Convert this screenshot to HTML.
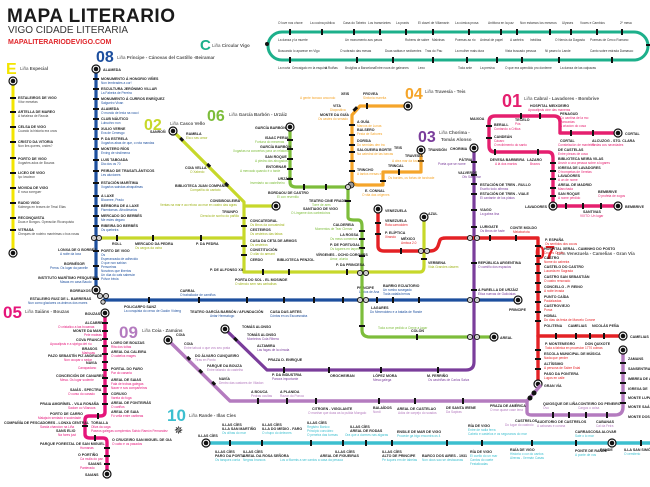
<!DOCTYPE html>
<html><head><meta charset="utf-8"><style>
html,body{margin:0;padding:0;background:#fff;}
svg{display:block;font-family:"Liberation Sans",sans-serif;}
.n{font-size:3.6px;font-weight:bold;fill:#222;}
.s{font-size:3.2px;}
.t{fill:none;stroke-linecap:round;stroke-linejoin:round;}
</style></head><body>
<svg width="650" height="487" viewBox="0 0 650 487" xmlns="http://www.w3.org/2000/svg">
<rect width="650" height="487" fill="#fff"/>
<text x="7" y="22" font-size="19" font-weight="bold" fill="#1a1a1a" letter-spacing="0.5">MAPA LITERARIO</text>
<text x="8" y="33" font-size="10" fill="#333">VIGO CIDADE LITERARIA</text>
<text x="8" y="44" font-size="7" font-weight="bold" fill="#e0262b">MAPALITERARIODEVIGO.COM</text>

<path class="t" d="M282,32 H634 A14,14 0 0 1 634,60 H282 A14,14 0 0 1 282,32" stroke="#1db08b" stroke-width="3"/>
<text x="200" y="50" font-size="15" font-weight="bold" fill="#1db08b">C</text>
<text x="212" y="47" font-size="4.5" fill="#555">Liña <tspan font-weight="bold">Circular Vigo</tspan></text>
<circle cx="267" cy="44" r="2" fill="#111"/>
<g fill="#111">
<rect x="289" y="29" width="2" height="6"/><rect x="321" y="29" width="2" height="6"/><rect x="353" y="29" width="2" height="6"/><rect x="379" y="29" width="2" height="6"/><rect x="405" y="29" width="2" height="6"/><rect x="432" y="29" width="2" height="6"/><rect x="468" y="29" width="2" height="6"/><rect x="500" y="29" width="2" height="6"/><rect x="516" y="29" width="2" height="6"/><rect x="549" y="29" width="2" height="6"/><rect x="570" y="29" width="2" height="6"/><rect x="596" y="29" width="2" height="6"/><rect x="621" y="29" width="2" height="6"/>
<rect x="289" y="57" width="2" height="6"/><rect x="356" y="57" width="2" height="6"/><rect x="392" y="57" width="2" height="6"/><rect x="432" y="57" width="2" height="6"/><rect x="466" y="57" width="2" height="6"/><rect x="496" y="57" width="2" height="6"/><rect x="521" y="57" width="2" height="6"/><rect x="558" y="57" width="2" height="6"/><rect x="611" y="57" width="2" height="6"/><rect x="646" y="44" width="4" height="2"/>
</g>
<g class="s" fill="#333">
<text x="278" y="24">O love nos chove</text><text x="310" y="24">La cocina pública</text><text x="343" y="24">Casa do Tabeiro</text><text x="368" y="24">Los transeúntes</text><text x="396" y="24">La praxis</text><text x="418" y="24">El clavel de Villamarín</text><text x="455" y="24">La cómica prosa</text><text x="488" y="24">Antífona en la paz</text><text x="520" y="24">Non estamos los mesmos</text><text x="562" y="24">Ulysses</text><text x="580" y="24">Voces e Cambios</text><text x="620" y="24">2º mesa</text>
<text x="278" y="41">La danza y la muerte</text><text x="345" y="41">Un monumento aos pasos</text><text x="405" y="41">Rubens de sabre</text><text x="432" y="41">Malvinas</text><text x="455" y="41">Poemas ao rio</text><text x="480" y="41">Animal de papel</text><text x="510" y="41">A carteira</text><text x="530" y="41">Inéditas</text><text x="555" y="41">O Nenús da Dagosta</text><text x="590" y="41">Poemas de Cerco Romano</text>
<text x="278" y="52">Buscando lo aparece en Vigo</text><text x="340" y="52">O sobrado das mesas</text><text x="385" y="52">Duas sabias e sedicentes</text><text x="425" y="52">Tras do Pau</text><text x="455" y="52">La mulher mais dura</text><text x="505" y="52">Vista buscado pessoa</text><text x="545" y="52">Ni paseo lo Lande</text><text x="590" y="52">Canto sobre estrada Damasco</text>
<text x="278" y="69">La novia</text><text x="292" y="69">Cercaígalo en la esquina</text><text x="325" y="69">A Ruiñas</text><text x="345" y="69">Bruiglias a Barcelona</text><text x="375" y="69">Entre nova de galeones</text><text x="418" y="69">Lexo</text><text x="458" y="69">Toda ante</text><text x="480" y="69">La presiva</text><text x="505" y="69">O que era apendido pro donleme</text><text x="560" y="69">La danza de las calpazas</text>
</g>

<path class="t" d="M13,80 V253" stroke="#f3e500" stroke-width="3"/>
<text x="6" y="74" font-size="16" font-weight="bold" fill="#f3e500">E</text>
<text x="20" y="70" font-size="4.5" fill="#555">Liña <tspan font-weight="bold">Especial</tspan></text>
<circle cx="13" cy="81" r="4" fill="#fff" stroke="#111" stroke-width="1.2"/><circle cx="13" cy="81" r="2.3" fill="#111"/>
<circle cx="13" cy="253" r="4" fill="#fff" stroke="#111" stroke-width="1.2"/><circle cx="13" cy="253" r="2.3" fill="#111"/>
<g fill="#111"><rect x="10" y="97" width="6" height="2"/><rect x="10" y="111" width="6" height="2"/><rect x="10" y="126" width="6" height="2"/><rect x="10" y="141" width="6" height="2"/><rect x="10" y="157" width="6" height="2"/><rect x="10" y="172" width="6" height="2"/><rect x="10" y="187" width="6" height="2"/><rect x="10" y="202" width="6" height="2"/><rect x="10" y="217" width="6" height="2"/><rect x="10" y="229" width="6" height="2"/></g>
<g><text class="n" x="18" y="99">ESTALEIROS DE VIGO</text><text class="s" x="18" y="103" fill="#444">Vítor mesetas</text>
<text class="n" x="18" y="113">ARTELLA DE MAREO</text><text class="s" x="18" y="117" fill="#444">A fortaleza de Raxola</text>
<text class="n" x="18" y="128">CELSA DE VIGO</text><text class="s" x="18" y="132" fill="#444">Cuando la historia era unos</text>
<text class="n" x="18" y="143">CRISTO DA VITORIA</text><text class="s" x="18" y="147" fill="#444">Non lles queres, ondes?</text>
<text class="n" x="18" y="160">PORTO DE VIGO</text><text class="s" x="18" y="164" fill="#444">Xogarles ados de Bouzas</text>
<text class="n" x="18" y="174">LICEO DE VIGO</text><text class="s" x="18" y="178" fill="#444">Iço lowdeon</text>
<text class="n" x="18" y="189">MOVIDA DE VIGO</text><text class="s" x="18" y="193" fill="#444">E nova xoreguer</text>
<text class="n" x="18" y="204">RADIO VIGO</text><text class="s" x="18" y="208" fill="#444">Kálmega en braves de Tessi Elias</text>
<text class="n" x="18" y="219">RECONQUISTA</text><text class="s" x="18" y="223" fill="#444">Duas e Bongos. Operación Riconquista</text>
<text class="n" x="18" y="231">VITRASA</text><text class="s" x="18" y="235" fill="#444">Cheques de rodeiro mantrimas o bus rosas</text></g>

<path class="t" d="M96,69 V292 M104,300 H518" stroke="#1d4f9e" stroke-width="3.2"/>
<text x="96" y="62" font-size="16" font-weight="bold" fill="#1d4f9e">08</text>
<text x="117" y="59" font-size="4.5" fill="#555">Liña <tspan font-weight="bold">Príncipe - Cánovas del Castillo -Beiramar</tspan></text>
<g fill="#111">
<rect x="93" y="78" width="6" height="2"/><rect x="93" y="88" width="6" height="2"/><rect x="93" y="98" width="6" height="2"/><rect x="93" y="108" width="6" height="2"/><rect x="93" y="118" width="6" height="2"/><rect x="93" y="128" width="6" height="2"/><rect x="93" y="138" width="6" height="2"/><rect x="93" y="148" width="6" height="2"/><rect x="93" y="159" width="6" height="2"/><rect x="93" y="170" width="6" height="2"/><rect x="93" y="182" width="6" height="2"/><rect x="93" y="195" width="6" height="2"/><rect x="93" y="205" width="6" height="2"/><rect x="93" y="215" width="6" height="2"/><rect x="93" y="225" width="6" height="2"/><rect x="93" y="250" width="6" height="2"/><rect x="93" y="265" width="6" height="2"/><rect x="93" y="278" width="6" height="2"/>
<rect x="148" y="297" width="2" height="6"/><rect x="198" y="297" width="2" height="6"/><rect x="246" y="297" width="2" height="6"/><rect x="283" y="297" width="2" height="6"/><rect x="313" y="297" width="2" height="6"/><rect x="342" y="297" width="2" height="6"/><rect x="376" y="297" width="2" height="6"/><rect x="392" y="297" width="2" height="6"/><rect x="418" y="297" width="2" height="6"/>
</g>
<circle cx="96" cy="69" r="4" fill="#fff" stroke="#111" stroke-width="1.2"/><circle cx="96" cy="69" r="2.3" fill="#111"/>
<circle cx="96" cy="290" r="4" fill="#fff" stroke="#111" stroke-width="1.2"/><circle cx="96" cy="290" r="2.3" fill="#111"/>
<circle cx="518" cy="300" r="4" fill="#fff" stroke="#111" stroke-width="1.2"/><circle cx="518" cy="300" r="2.3" fill="#111"/>
<g><text class="n" x="103" y="71">ALAMEDA</text>
<text class="n" x="101" y="80">MONUMENTO Á HONORIO VIÑES</text><text class="s" x="101" y="84" fill="#1d4f9e">Non lembrades a cor!</text>
<text class="n" x="101" y="90">ESCULTURA JERÓNIMO VILLAR</text><text class="s" x="101" y="94" fill="#1d4f9e">La Fabeira de Pereira</text>
<text class="n" x="101" y="100">MONUMENTO Á CURROS ENRÍQUEZ</text><text class="s" x="101" y="104" fill="#1d4f9e">Salgueiro Vixan</text>
<text class="n" x="101" y="110">ALAMEDA</text><text class="s" x="101" y="114" fill="#1d4f9e">O mundo de lexia na xocci</text>
<text class="n" x="101" y="120">CLUB NÁUTICO</text><text class="s" x="101" y="124" fill="#1d4f9e">Lubuchro non</text>
<text class="n" x="101" y="130">XULIO VERNE</text><text class="s" x="101" y="134" fill="#1d4f9e">Eva de Cenesgo</text>
<text class="n" x="101" y="140">P. DA ESTRELA</text><text class="s" x="101" y="144" fill="#1d4f9e">Xogarlos abas de que, o rota mandas</text>
<text class="n" x="101" y="150">MONTERO RÍOS</text><text class="s" x="101" y="154" fill="#1d4f9e">Erving de vindimena</text>
<text class="n" x="101" y="161">LUIS TABOADA</text><text class="s" x="101" y="165" fill="#1d4f9e">Dia dos os 70</text>
<text class="n" x="101" y="172">PEIRAO DE TRASATLÁNTICOS</text><text class="s" x="101" y="176" fill="#1d4f9e">Les aluviones</text>
<text class="n" x="101" y="184">ESTACIÓN MARÍTIMA</text><text class="s" x="101" y="188" fill="#1d4f9e">Xogarlos saindas atnapálmas</text>
<text class="n" x="101" y="197">A LAXE</text><text class="s" x="101" y="201" fill="#1d4f9e">Bloomee, Prado</text>
<text class="n" x="101" y="207">BÉRBORA DE A LAXE</text><text class="s" x="101" y="211" fill="#1d4f9e">Fisentornas. Afrodimarios</text>
<text class="n" x="101" y="217">MERCADO DO BERBÉS</text><text class="s" x="101" y="221" fill="#1d4f9e">Me estes degaro</text>
<text class="n" x="101" y="227">RIBEIRA DO BERBÉS</text><text class="s" x="101" y="231" fill="#1d4f9e">Os quebeira</text>
<text class="n" x="101" y="252">PORTO DE VIGO</text><text class="s" x="101" y="256" fill="#1d4f9e">Os</text><text class="s" x="101" y="260" fill="#1d4f9e">Esperanzada de adhecido</text><text class="s" x="101" y="264" fill="#1d4f9e">O que non sabían</text><text class="s" x="101" y="268" fill="#1d4f9e">Persoeiras</text><text class="s" x="101" y="272" fill="#1d4f9e">Nosotros que libertos</text><text class="s" x="101" y="276" fill="#1d4f9e">Un dúa do cais sabesón</text><text class="s" x="101" y="280" fill="#1d4f9e">Pólvor bécia</text>
<text class="n" x="58" y="251">LONXA DE O BORBÉS</text><text class="s" x="60" y="255" fill="#1d4f9e">A noite da loxa</text>
<text class="n" x="64" y="265">BORNÉSOR</text><text class="s" x="50" y="269" fill="#1d4f9e">Prena. Os lugar da panelle</text>
<text class="n" x="38" y="279">INSTITUTO MARÍTIMO PESQUEIRO</text><text class="s" x="60" y="283" fill="#1d4f9e">Masas en casa Baudo</text>
<text class="n" x="70" y="292">BORRAXOS</text>
<text class="n" x="30" y="300">ESTALEIRO RUIZ DE L. BARRERAS</text><text class="s" x="28" y="304" fill="#1d4f9e">Nun como glaciares os ánimos dos mares</text>
<text class="n" x="124" y="308">POLICARPO SANZ</text><text class="s" x="124" y="312" fill="#1d4f9e">La conquista do cerco de Gadón Vídeng</text>
<text class="n" x="180" y="292">CARRAL</text><text class="s" x="180" y="296" fill="#1d4f9e">O traballador de camiños</text>
<text class="n" x="190" y="313">TEATRO GARCÍA BARBÓN / AFUNDACIÓN</text><text class="s" x="210" y="317" fill="#1d4f9e">Antar Hermatogo</text>
<text class="n" x="270" y="313">CASA DAS ARTES</text><text class="s" x="270" y="317" fill="#1d4f9e">Cóntos en os Escuesnaba</text>
<text class="n" x="383" y="287">BARRIO ECUATORIO</text><text class="s" x="383" y="291" fill="#1d4f9e">Un rumbo sosegado</text><text class="s" x="383" y="295" fill="#1d4f9e">Tocla catalia benos</text>
<text class="n" x="357" y="289">PRINCIPE</text><text class="s" x="359" y="293" fill="#1d4f9e">Labios de Ana</text>
<text class="n" x="371" y="309">LAGARES</text><text class="s" x="370" y="313" fill="#1d4f9e">Do Mmendoteo e a batalla de Rande</text>
<text class="n" x="509" y="311">PRINCIPE</text></g>

<path class="t" d="M173,131 L244,202 V272 H420 Q424,272 424,266 V217 M96,238 H244 M244,206 H276" stroke="#c7d82a" stroke-width="3.2"/>
<text x="144" y="130" font-size="16" font-weight="bold" fill="#c7d82a">02</text>
<text x="170" y="125" font-size="4.5" fill="#555">Liña <tspan font-weight="bold">Casco Vello</tspan></text>
<circle cx="173" cy="131" r="4" fill="#fff" stroke="#111" stroke-width="1.2"/><circle cx="173" cy="131" r="2.3" fill="#111"/>
<circle cx="276" cy="206" r="4" fill="#fff" stroke="#111" stroke-width="1.2"/><circle cx="276" cy="206" r="2.3" fill="#111"/>
<circle cx="424" cy="217" r="4" fill="#fff" stroke="#111" stroke-width="1.2"/><circle cx="424" cy="217" r="2.3" fill="#111"/>
<g fill="#111"><rect x="180" y="138" width="4" height="3" transform="rotate(45 182 139)"/><rect x="207" y="164" width="4" height="3" transform="rotate(45 209 165)"/><rect x="225" y="183" width="4" height="3" transform="rotate(45 227 184)"/>
<rect x="116" y="235" width="2" height="6"/><rect x="152" y="235" width="2" height="6"/><rect x="200" y="235" width="2" height="6"/><rect x="241" y="217" width="6" height="2"/><rect x="241" y="225" width="6" height="2"/><rect x="241" y="245" width="6" height="2"/><rect x="241" y="254" width="6" height="2"/><rect x="262" y="269" width="2" height="6"/><rect x="288" y="269" width="2" height="6"/><rect x="346" y="269" width="2" height="6"/><rect x="421" y="258" width="6" height="2"/></g>
<g><text class="n" x="150" y="133">SANROÑ</text><text class="n" x="186" y="135">RAMBLA</text><text class="s" x="186" y="139" fill="#9fb31a">Ela o seu amor</text>
<text class="n" x="185" y="169">COIA VELLA</text><text class="s" x="190" y="173" fill="#9fb31a">O Xabedo</text>
<text class="n" x="175" y="187">BIBLIOTECA JUAN COMPAÑEL</text><text class="s" x="190" y="191" fill="#9fb31a">Compañía do cantato</text>
<text class="n" x="210" y="202">CONSIBOULEIRA</text><text class="s" x="160" y="206" fill="#9fb31a">Ventas na mar e ao reloxo ao mar en castro das agras</text>
<text class="n" x="222" y="213">TRIUNFO</text><text class="s" x="200" y="217" fill="#9fb31a">Ciencia de sonho do pañillo</text>
<text class="n" x="250" y="222">CONCATEDRAL</text><text class="s" x="250" y="226" fill="#9fb31a">Os libros da concatedral</text>
<text class="n" x="250" y="231">CESTEIROS</text><text class="s" x="250" y="235" fill="#9fb31a">Os cesteiros das fabas</text>
<text class="n" x="250" y="242">CASA DA CETA DE ARMOS</text><text class="s" x="250" y="246" fill="#9fb31a">Os cesteiros</text>
<text class="n" x="250" y="251">CONSTITUCIÓN</text><text class="s" x="250" y="255" fill="#9fb31a">O ollar do armant</text>
<text class="n" x="250" y="261">CERDO</text><text class="n" x="277" y="261">BIBLIOTECA PENZOL</text>
<text class="n" x="210" y="271">P. DE ALFONSO XII</text>
<text class="n" x="235" y="281">PORTA DO SOL - EL MOSINDE</text><text class="s" x="235" y="285" fill="#9fb31a">O silencio sem nas carbalhas</text>
<text class="n" x="112" y="245">ROLL</text><text class="n" x="135" y="245">MERCADO DA PEDRA</text><text class="s" x="135" y="249" fill="#9fb31a">Os cargos da ostra</text>
<text class="n" x="196" y="245">P. DA PEDRA</text>
<text class="n" x="428" y="215">AZUL</text><text class="n" x="428" y="264">VERBENA</text><text class="s" x="428" y="268" fill="#9fb31a">Vida Grandes clasem</text></g>

<path class="t" d="M290,127 V182 Q290,187 296,187 H348 V217 Q348,220 354,220 H358 Q362,220 362,226 V330 Q362,337 370,337 H494" stroke="#7dbd3b" stroke-width="3.2"/>
<text x="207" y="121" font-size="16" font-weight="bold" fill="#7dbd3b">06</text>
<text x="229" y="116" font-size="4.5" fill="#555">Liña <tspan font-weight="bold">García Barbón - Urzáiz</tspan></text>
<circle cx="290" cy="127" r="4" fill="#fff" stroke="#111" stroke-width="1.2"/><circle cx="290" cy="127" r="2.3" fill="#111"/>
<circle cx="494" cy="337" r="4" fill="#fff" stroke="#111" stroke-width="1.2"/><circle cx="494" cy="337" r="2.3" fill="#111"/>
<g fill="#111"><rect x="287" y="139" width="6" height="2"/><rect x="287" y="148" width="6" height="2"/><rect x="287" y="158" width="6" height="2"/><rect x="287" y="168" width="6" height="2"/><rect x="287" y="178" width="6" height="2"/><rect x="303" y="184" width="2" height="6"/><rect x="325" y="184" width="2" height="6"/><rect x="345" y="200" width="6" height="2"/><rect x="359" y="230" width="6" height="2"/><rect x="359" y="238" width="6" height="2"/><rect x="359" y="247" width="6" height="2"/><rect x="359" y="255" width="6" height="2"/><rect x="359" y="325" width="6" height="2"/><rect x="416" y="334" width="2" height="6"/></g>
<g><text class="n" x="255" y="129">GARCÍA BARBÓN</text><text class="n" x="265" y="139">ISAAC PERAL</text><text class="s" x="255" y="143" fill="#7dbd3b">Fortuna do mecenas</text>
<text class="n" x="260" y="148">GARCÍA BARBÓN</text><text class="s" x="233" y="152" fill="#7dbd3b">Xogarlas na concertos para un relatorio</text>
<text class="n" x="265" y="158">SAN ROQUE</text><text class="s" x="255" y="162" fill="#7dbd3b">A piedra dos abogados</text>
<text class="n" x="266" y="168">ENTORNAR</text><text class="s" x="240" y="172" fill="#7dbd3b">A mercado quando é o tarde</text>
<text class="n" x="278" y="180">URZÁIZ</text><text class="s" x="250" y="184" fill="#7dbd3b">Inventario ao castelheiro</text>
<text class="n" x="268" y="194">BORDAOU DE CASTRO</text><text class="s" x="277" y="198" fill="#7dbd3b">El con reventilo</text>
<text class="n" x="309" y="202">TEATRO CINE FRADE</text><text class="s" x="312" y="206" fill="#7dbd3b">Torre de ares</text>
<text class="n" x="303" y="210">SANTIAGO DE VIGO</text><text class="s" x="291" y="214" fill="#7dbd3b">O Lingame dos carbedoiros</text>
<text class="n" x="333" y="226">CALDEREIA</text><text class="s" x="315" y="230" fill="#7dbd3b">Momentos de Tear Clemar</text>
<text class="n" x="340" y="236">LA ROSSA</text><text class="s" x="330" y="240" fill="#7dbd3b">Os meus comentos</text>
<text class="n" x="330" y="246">P. DE PORTUGAL</text><text class="s" x="330" y="250" fill="#7dbd3b">Os lugares en tarpelo</text>
<text class="n" x="316" y="256">VÍRGENES - OCHO CORONES</text><text class="s" x="330" y="260" fill="#7dbd3b">Amor, alunia</text>
<text class="n" x="336" y="266">P. DA PRINCESA</text>
<text class="s" x="378" y="329" fill="#7dbd3b">Toda a mar pedido a Crene a lugar</text><text class="n" x="411" y="332">COLÓN</text>
<text class="n" x="500" y="339">AREAL</text></g>

<path class="t" d="M408,106 H360 L352,115 V180 Q352,185 358,185 H383 V172 H421 V150" stroke="#f5a52a" stroke-width="3.2"/>
<text x="405" y="99" font-size="16" font-weight="bold" fill="#f5a52a">04</text>
<text x="425" y="93" font-size="4.5" fill="#555">Liña <tspan font-weight="bold">Travesía - Teis</tspan></text>
<circle cx="408" cy="106" r="4" fill="#fff" stroke="#111" stroke-width="1.2"/><circle cx="408" cy="106" r="2.3" fill="#111"/>
<circle cx="421" cy="150" r="4" fill="#fff" stroke="#111" stroke-width="1.2"/><circle cx="421" cy="150" r="2.3" fill="#111"/>
<g fill="#111"><rect x="366" y="103" width="2" height="6"/><rect x="354" y="107" width="3" height="5" transform="rotate(45 356 109)"/><rect x="349" y="124" width="6" height="2"/><rect x="349" y="134" width="6" height="2"/><rect x="349" y="144" width="6" height="2"/><rect x="349" y="151" width="6" height="2"/><rect x="349" y="160" width="6" height="2"/><rect x="349" y="170" width="6" height="2"/><rect x="380" y="180" width="6" height="2"/><rect x="398" y="169" width="2" height="6"/><rect x="418" y="160" width="6" height="2"/></g>
<circle cx="351" cy="185" r="3" fill="#999" stroke="#111" stroke-width="0.8"/>
<g><text class="n" x="341" y="95">XEIS</text><text class="n" x="363" y="95">FROVEA</text><text class="s" x="363" y="99" fill="#f5a52a">Sinfonía mareita</text><text class="s" x="300" y="99" fill="#f5a52a">A gente bonaco ancondo</text>
<text class="n" x="333" y="107">VITA</text><text class="s" x="330" y="111" fill="#f5a52a">Diapositiva</text>
<text class="n" x="320" y="116">MONTE DA GUÍA</text><text class="s" x="318" y="120" fill="#f5a52a">Os castes do senado</text>
<text class="n" x="357" y="123">A GUÍA</text><text class="s" x="357" y="127" fill="#f5a52a">Marcos de Lunas</text>
<text class="n" x="357" y="131">BALSERO</text><text class="s" x="357" y="135" fill="#f5a52a">Festa de Sabores</text>
<text class="n" x="357" y="142">DORSIA</text><text class="s" x="357" y="146" fill="#f5a52a">Do semidas den tra</text>
<text class="n" x="357" y="151">SALGUEIRA BORTE</text><text class="s" x="357" y="155" fill="#f5a52a">Na catedral de las barcas</text>
<text class="n" x="357" y="171">TRINCHO</text><text class="s" x="357" y="175" fill="#f5a52a">A tantos mesas en</text>
<text class="n" x="365" y="192">E. CONNAL</text><text class="s" x="362" y="196" fill="#f5a52a">O vita das origenes</text>
<text class="n" x="388" y="167">TRINCAL</text><text class="s" x="388" y="179" fill="#f5a52a">Os bordes, os fortas de tarchade</text>
<text class="n" x="405" y="157">TRAVESIA</text><text class="s" x="392" y="162" fill="#f5a52a">A obra mar da luscada</text><text class="n" x="394" y="149">TEIS</text>
<text class="n" x="428" y="151">TRANSIÓN</text></g>

<path class="t" d="M474,148 V362 Q474,370 466,370 H267 L225,329" stroke="#7a3d9b" stroke-width="3.2"/>
<text x="418" y="142" font-size="16" font-weight="bold" fill="#7a3d9b">03</text>
<text x="439" y="134" font-size="4.5" fill="#555">Liña <tspan font-weight="bold">Chorima -</tspan></text>
<text x="441" y="141" font-size="4.5" font-weight="bold" fill="#555">Tomás Alonso</text>
<circle cx="474" cy="148" r="4" fill="#fff" stroke="#111" stroke-width="1.2"/><circle cx="474" cy="148" r="2.3" fill="#111"/>
<circle cx="225" cy="329" r="4" fill="#fff" stroke="#111" stroke-width="1.2"/><circle cx="225" cy="329" r="2.3" fill="#111"/>
<g fill="#111"><rect x="471" y="161" width="6" height="2"/><rect x="471" y="174" width="6" height="2"/><rect x="471" y="183" width="6" height="2"/><rect x="471" y="193" width="6" height="2"/><rect x="471" y="209" width="6" height="2"/><rect x="471" y="226" width="6" height="2"/><rect x="471" y="262" width="6" height="2"/><rect x="471" y="289" width="6" height="2"/><rect x="328" y="367" width="2" height="6"/><rect x="380" y="367" width="2" height="6"/><rect x="437" y="367" width="2" height="6"/><rect x="283" y="367" width="2" height="6"/><rect x="234" y="338" width="4" height="3" transform="rotate(45 236 339)"/></g>
<g><text class="n" x="450" y="150">CHORIMA</text><text class="n" x="459" y="161">PÁTRIA</text><text class="s" x="438" y="165" fill="#7a3d9b">Poeta que se nome</text>
<text class="n" x="458" y="174">VALVERDE</text><text class="s" x="462" y="178" fill="#7a3d9b">Ofo Sas Tirar</text>
<text class="n" x="480" y="186">ESTACIÓN DE TREN - RULLO</text><text class="s" x="480" y="190" fill="#7a3d9b">Escrito todo afirmas</text>
<text class="n" x="480" y="195">ESTACIÓN DE TREN - VIALE</text><text class="s" x="480" y="199" fill="#7a3d9b">El cantante de los platos</text>
<text class="n" x="480" y="211">VIAGO</text><text class="s" x="480" y="215" fill="#7a3d9b">La gabea lina</text>
<text class="n" x="480" y="228">LURIGATE</text><text class="s" x="480" y="232" fill="#7a3d9b">Os libros de fuste</text>
<text class="n" x="478" y="264">REPÚBLICA ARGENTINA</text><text class="s" x="478" y="268" fill="#7a3d9b">O camiño dos espacios</text>
<text class="n" x="478" y="291">A PARELLA DE URZÁIZ</text><text class="s" x="478" y="295" fill="#7a3d9b">Ética nuevas de Galícialas</text>
<text class="n" x="330" y="377">OROCHEIRAN</text><text class="n" x="373" y="377">LÓPEZ MORA</text><text class="s" x="373" y="381" fill="#7a3d9b">Mesa galega</text>
<text class="n" x="427" y="377">M. FERRIÑO</text><text class="s" x="428" y="381" fill="#7a3d9b">Os castriñas de Carlos Salva</text>
<text class="n" x="242" y="328">TOMÁS ALONSO</text><text class="n" x="247" y="336">TOMÁS ALONSO</text><text class="s" x="247" y="340" fill="#7a3d9b">Monteiros Cola Ribera</text>
<text class="n" x="257" y="347">ALTAMIRA</text><text class="s" x="257" y="351" fill="#7a3d9b">Las fagas de la cirrada</text>
<text class="n" x="268" y="361">PRAZA D. ENRIQUE</text><text class="n" x="272" y="376">P. DA INDUSTRIA</text><text class="s" x="272" y="380" fill="#7a3d9b">Panora importante</text></g>

<path class="t" d="M378,209 V246 Q378,251 384,251 H430 Q436,251 438,246 L440,240 Q441,238 446,238 H538 V384" stroke="#e42125" stroke-width="3.4"/>
<path class="t" d="M538,336 H623" stroke="#e42125" stroke-width="3.4"/>
<text x="535" y="259" font-size="18" font-weight="bold" fill="#e42125">07</text>
<text x="557" y="255" font-size="4.5" fill="#555">Liña <tspan font-weight="bold">Venezuela - Camelias - Gran Vía</tspan></text>
<circle cx="378" cy="209" r="4" fill="#fff" stroke="#111" stroke-width="1.2"/><circle cx="378" cy="209" r="2.3" fill="#111"/>
<circle cx="623" cy="336" r="4" fill="#fff" stroke="#111" stroke-width="1.2"/><circle cx="623" cy="336" r="2.3" fill="#111"/>
<circle cx="538" cy="384" r="4" fill="#fff" stroke="#111" stroke-width="1.2"/><circle cx="538" cy="384" r="2.3" fill="#111"/>
<g fill="#111"><rect x="375" y="222" width="6" height="2"/><rect x="375" y="233" width="6" height="2"/><rect x="400" y="248" width="2" height="6"/><rect x="489" y="235" width="2" height="6"/><rect x="515" y="235" width="2" height="6"/>
<rect x="535" y="245" width="6" height="2"/><rect x="535" y="255" width="6" height="2"/><rect x="535" y="263" width="6" height="2"/><rect x="535" y="272" width="6" height="2"/><rect x="535" y="282" width="6" height="2"/><rect x="535" y="291" width="6" height="2"/><rect x="535" y="301" width="6" height="2"/><rect x="535" y="311" width="6" height="2"/><rect x="535" y="320" width="6" height="2"/><rect x="535" y="349" width="6" height="2"/><rect x="535" y="358" width="6" height="2"/><rect x="535" y="368" width="6" height="2"/><rect x="555" y="333" width="2" height="6"/><rect x="575" y="333" width="2" height="6"/><rect x="589" y="333" width="2" height="6"/><rect x="603" y="333" width="2" height="6"/></g>
<g><text class="n" x="385" y="212">VENEZUELA</text><text class="n" x="385" y="222">VENEZUELA</text><text class="s" x="385" y="226" fill="#e42125">Rota carrodolen</text>
<text class="n" x="385" y="234">P. ELÍPTICA</text><text class="s" x="385" y="238" fill="#e42125">Xirando</text>
<text class="n" x="401" y="240">MÉXICO</text><text class="s" x="401" y="244" fill="#e42125">Amboa 2.0</text>
<text class="n" x="510" y="229">CONTE MOLDO</text><text class="s" x="513" y="233" fill="#e42125">Melaboriota</text>
<text class="n" x="545" y="241">P. ESPAÑA</text><text class="s" x="545" y="245" fill="#e42125">Os sentidos dos cocos</text>
<text class="n" x="544" y="250">HOSPITAL XERAL - CAMINHO DO POSTO</text><text class="s" x="544" y="254" fill="#e42125">Cruxes Orgas</text>
<text class="n" x="544" y="259">CASTRO</text><text class="s" x="544" y="263" fill="#e42125">Nome do cabreira</text>
<text class="n" x="544" y="268">CASTELO DO CASTRO</text><text class="s" x="544" y="272" fill="#e42125">Lucarda en Sagrada</text>
<text class="n" x="544" y="278">CASTRO SAN SEBASTIÁN</text><text class="s" x="544" y="282" fill="#e42125">O castro renovado</text>
<text class="n" x="544" y="288">CONCELLO - P. REINO</text><text class="s" x="544" y="292" fill="#e42125">A noite levada</text>
<text class="n" x="544" y="298">PUNTO CAÍDA</text><text class="s" x="544" y="302" fill="#e42125">Paulalzadas</text>
<text class="n" x="544" y="307">CASTROVIEJO</text><text class="s" x="544" y="311" fill="#e42125">Porca</text>
<text class="n" x="544" y="317">HOBAL</text><text class="s" x="544" y="321" fill="#e42125">Do días da festa de Marcelo Corone</text>
<text class="n" x="544" y="327">POLITENA</text><text class="n" x="568" y="327">CAMELIAS</text><text class="n" x="592" y="327">NICOLÁS PEÑA</text>
<text class="n" x="545" y="345">P. MONTENEGRO</text><text class="s" x="545" y="349" fill="#e42125">Toda a fabrica en procesion</text>
<text class="n" x="585" y="345">DON QUIXOTE</text><text class="s" x="585" y="349" fill="#e42125">1770 cobras</text>
<text class="n" x="544" y="355">ESCOLA MUNICIPAL DE MÚSICA</text><text class="s" x="544" y="359" fill="#e42125">Nada que perder</text>
<text class="n" x="544" y="365">ALTÍSSIMO</text><text class="s" x="544" y="369" fill="#e42125">A persona de Sabre Estal</text>
<text class="n" x="544" y="375">PASO DA PONTERA</text><text class="s" x="544" y="379" fill="#e42125">Lugos en calle</text>
<text class="n" x="544" y="387">GRAN VÍA</text><text class="n" x="630" y="338">CAMELIAS</text></g>

<path class="t" d="M618,133 H560 V122 Q560,116 554,116 H495 Q489,116 489,122 V146 Q489,152 495,152 H548 Q553,152 553,158 V206 H618" stroke="#e51f6f" stroke-width="3.4"/>
<text x="502" y="107" font-size="18" font-weight="bold" fill="#e51f6f">01</text>
<text x="524" y="100" font-size="4.5" fill="#555">Liña <tspan font-weight="bold">Cabral - Lavadores - Bombrive</tspan></text>
<circle cx="618" cy="133" r="4" fill="#fff" stroke="#111" stroke-width="1.2"/><circle cx="618" cy="133" r="2.3" fill="#111"/>
<circle cx="553" cy="206" r="4" fill="#fff" stroke="#111" stroke-width="1.2"/><circle cx="553" cy="206" r="2.3" fill="#111"/>
<circle cx="618" cy="206" r="4" fill="#fff" stroke="#111" stroke-width="1.2"/><circle cx="618" cy="206" r="2.3" fill="#111"/>
<g fill="#111"><rect x="520" y="113" width="2" height="6"/><rect x="539" y="113" width="2" height="6"/><rect x="486" y="125" width="6" height="2"/><rect x="486" y="137" width="6" height="2"/><rect x="494" y="149" width="2" height="6"/><rect x="537" y="149" width="2" height="6"/><rect x="570" y="130" width="2" height="6"/><rect x="592" y="130" width="2" height="6"/><rect x="550" y="162" width="6" height="2"/><rect x="550" y="170" width="6" height="2"/><rect x="550" y="178" width="6" height="2"/><rect x="550" y="187" width="6" height="2"/><rect x="550" y="195" width="6" height="2"/><rect x="565" y="203" width="2" height="6"/><rect x="582" y="203" width="2" height="6"/><rect x="600" y="203" width="2" height="6"/></g>
<g><text class="n" x="530" y="107">HOSPITAL MEIXOEIRO</text><text class="s" x="528" y="111" fill="#e51f6f">Apocalipsis cine das maneras</text>
<text class="n" x="470" y="120">MAIXOA</text><text class="n" x="515" y="121">TECELO</text><text class="s" x="515" y="125" fill="#e51f6f">Pós</text>
<text class="n" x="560" y="115">PENAGUD</text><text class="s" x="560" y="119" fill="#e51f6f">Co cantina de la mo</text><text class="s" x="560" y="123" fill="#e51f6f">Pancaxias</text><text class="s" x="560" y="127" fill="#e51f6f">A criacion do cosa</text>
<text class="n" x="494" y="126">BERALL</text><text class="s" x="494" y="130" fill="#e51f6f">Contando a Critica</text>
<text class="n" x="494" y="138">CANDEÁN</text><text class="s" x="494" y="142" fill="#e51f6f">Cácaro</text><text class="s" x="494" y="146" fill="#e51f6f">O recibimento do santo</text>
<text class="n" x="560" y="142">CORTAL</text><text class="s" x="558" y="146" fill="#e51f6f">Constelación de manteles</text>
<text class="n" x="592" y="142">ALCUZOG - STO. CLARA</text><text class="s" x="592" y="146" fill="#e51f6f">Sedas cos navedades</text>
<text class="n" x="625" y="135">CORTAL</text>
<text class="n" x="490" y="161">DEVESA BARBEIRA</text><text class="s" x="495" y="165" fill="#e51f6f">A lá dos martos</text><text class="n" x="527" y="161">LAZARO</text><text class="s" x="530" y="165" fill="#e51f6f">Bravos</text>
<text class="n" x="558" y="151">DE CASTELAS</text><text class="s" x="558" y="155" fill="#e51f6f">Entre piezas de cosa</text>
<text class="n" x="558" y="160">BIBLIOTECA NEIRA VILAS</text><text class="s" x="558" y="164" fill="#e51f6f">Anvoir a una pessoa sobre a lugares</text>
<text class="n" x="558" y="169">IGREXA DE LAVADORES</text><text class="s" x="558" y="173" fill="#e51f6f">O trompetas de Xerelas</text>
<text class="n" x="558" y="177">LAVADORES</text><text class="s" x="558" y="181" fill="#e51f6f">A un de nome</text>
<text class="n" x="558" y="186">AREAL DE MADRID</text><text class="s" x="558" y="190" fill="#e51f6f">Manchada</text>
<text class="n" x="558" y="195">SAN ROQUE</text><text class="s" x="558" y="199" fill="#e51f6f">A nome pérdido</text>
<text class="n" x="598" y="193">BEMBRIVE</text><text class="s" x="598" y="197" fill="#e51f6f">O profeta de xogos</text>
<text class="n" x="583" y="213">SANTIVAS</text><text class="s" x="580" y="217" fill="#e51f6f">VIXTO: Un lugar</text>
<text class="n" x="525" y="208">LAVADORES</text><text class="n" x="625" y="208">BEMBRIVE</text></g>

<path class="t" d="M105,313 V412 Q105,416 100,416 H89 Q85,416 85,420 V434 Q85,438 90,438 H103 Q107,438 107,442 V473" stroke="#e5157a" stroke-width="3.4"/>
<text x="3" y="318" font-size="17" font-weight="bold" fill="#e5157a">05</text>
<text x="25" y="313" font-size="4.5" fill="#555">Liña <tspan font-weight="bold">Saiáns - Bouzas</tspan></text>
<circle cx="105" cy="313" r="4" fill="#fff" stroke="#111" stroke-width="1.2"/><circle cx="105" cy="313" r="2.3" fill="#111"/>
<circle cx="107" cy="474" r="4" fill="#fff" stroke="#111" stroke-width="1.2"/><circle cx="107" cy="474" r="2.3" fill="#111"/>
<g fill="#111"><rect x="102" y="322" width="6" height="2"/><rect x="102" y="330" width="6" height="2"/><rect x="102" y="338" width="6" height="2"/><rect x="102" y="345" width="6" height="2"/><rect x="102" y="353" width="6" height="2"/><rect x="102" y="361" width="6" height="2"/><rect x="102" y="369" width="6" height="2"/><rect x="102" y="377" width="6" height="2"/><rect x="102" y="385" width="6" height="2"/><rect x="102" y="393" width="6" height="2"/><rect x="102" y="403" width="6" height="2"/><rect x="97" y="413" width="2" height="6"/><rect x="82" y="425" width="6" height="2"/><rect x="94" y="435" width="2" height="6"/><rect x="104" y="447" width="6" height="2"/><rect x="104" y="455" width="6" height="2"/><rect x="104" y="463" width="6" height="2"/></g>
<g><text class="n" x="85" y="315">BOUZAS</text>
<text class="n" x="85" y="324">ALCABRE</text><text class="s" x="58" y="328" fill="#e5157a">O cristalico a las bocanas</text>
<text class="n" x="73" y="332">MONTE DA MAN</text><text class="s" x="84" y="336" fill="#e5157a">Pele mateas</text>
<text class="n" x="76" y="341">COVA FRANCA</text><text class="s" x="50" y="345" fill="#e5157a">Apocalipsis e a sipriga det ríu</text>
<text class="n" x="82" y="350">BRASOS</text><text class="s" x="82" y="354" fill="#e5157a">Marisoas</text>
<text class="n" x="48" y="357">PAZO SEBASTÍN PIZ ANDRADE</text><text class="s" x="64" y="361" fill="#e5157a">Non ocupar o sedar</text>
<text class="n" x="86" y="364">NAVIA</text><text class="s" x="78" y="369" fill="#e5157a">Canapadano</text>
<text class="n" x="56" y="377">CONCEICIÓN DE CANARES</text><text class="s" x="60" y="381" fill="#e5157a">Mesa. Os lugar sodente</text>
<text class="n" x="70" y="391">SAIÁS - SPECTRA</text><text class="s" x="68" y="395" fill="#e5157a">O curso do canado</text>
<text class="n" x="40" y="405">PRAIA AMORÍNEL - VILA RONAÑA</text><text class="s" x="68" y="409" fill="#e5157a">Sadom co Vilanova</text>
<text class="n" x="50" y="415">PORTO DE CARRO</text><text class="s" x="38" y="419" fill="#e5157a">Malajsón sentado e sociedade</text>
<text class="n" x="4" y="424">COMPAÑÍA DE PESCADORES - LONXA CENTRAL</text><text class="s" x="40" y="428" fill="#e5157a">Sanda chancion na Liña</text>
<text class="n" x="56" y="432">SANS ELIO</text><text class="s" x="58" y="436" fill="#e5157a">Na fores just</text>
<text class="n" x="40" y="445">PARQUE FORESTAL DE SAN MIGUEL</text><text class="s" x="80" y="449" fill="#e5157a">Humanas</text>
<text class="n" x="78" y="456">O PORTIÑO</text><text class="s" x="80" y="460" fill="#e5157a">Ca mulla do pan</text>
<text class="n" x="88" y="465">SAIANS</text><text class="s" x="80" y="469" fill="#e5157a">Panterado</text>
<text class="n" x="85" y="476">SAIANS</text>
<text class="n" x="111" y="344">LOIRO DE BOUZAS</text><text class="s" x="111" y="348" fill="#e5157a">Rita dos toitas</text>
<text class="n" x="111" y="353">AREAL DA CALEIRA</text><text class="s" x="111" y="357" fill="#e5157a">O cabelos mages</text>
<text class="n" x="111" y="370">PORTAL DO FARO</text><text class="s" x="111" y="374" fill="#e5157a">Par do canaria</text>
<text class="n" x="111" y="381">AREAL DE SAIAS</text><text class="s" x="111" y="385" fill="#e5157a">Fala de trobas galegas</text><text class="s" x="111" y="389" fill="#e5157a">Nacer e sos compañeiros</text>
<text class="n" x="111" y="395">CORUXO</text><text class="s" x="111" y="399" fill="#e5157a">Varela do fuga</text>
<text class="n" x="111" y="404">AREAL DE FONTEIRÁS</text><text class="s" x="111" y="408" fill="#e5157a">O cariños</text>
<text class="n" x="111" y="413">AREAL DE SAIA</text><text class="s" x="111" y="417" fill="#e5157a">Fó vella entre caribeas</text>
<text class="n" x="91" y="424">TORALLA</text><text class="s" x="91" y="428" fill="#e5157a">Oliva da caga</text><text class="s" x="91" y="432" fill="#e5157a">Paseos galegas complentos Salvio Ramón Fernandez</text>
<text class="n" x="112" y="441">O CRUCEIRO SAN MIGUEL DE OIA</text><text class="s" x="112" y="445" fill="#e5157a">O cabo e os pasados</text></g>

<path class="t" d="M168,340 L230,401 H527 L540,386 M527,401 V412 Q527,415 532,415 H615 Q623,415 623,407 V350" stroke="#b47bbf" stroke-width="3.4"/>
<text x="119" y="338" font-size="17" font-weight="bold" fill="#b47bbf">09</text>
<text x="142" y="332" font-size="4.5" fill="#555">Liña <tspan font-weight="bold">Coia - Zamáns</tspan></text>
<circle cx="168" cy="340" r="4" fill="#fff" stroke="#111" stroke-width="1.2"/><circle cx="168" cy="340" r="2.3" fill="#111"/>
<circle cx="623" cy="350" r="4" fill="#fff" stroke="#111" stroke-width="1.2"/><circle cx="623" cy="350" r="2.3" fill="#111"/>
<g fill="#111"><rect x="187" y="357" width="4" height="3" transform="rotate(45 189 358)"/><rect x="199" y="370" width="4" height="3" transform="rotate(45 201 371)"/><rect x="212" y="382" width="4" height="3" transform="rotate(45 214 383)"/>
<rect x="257" y="398" width="2" height="6"/><rect x="286" y="398" width="2" height="6"/><rect x="315" y="398" width="2" height="6"/><rect x="378" y="398" width="2" height="6"/><rect x="414" y="398" width="2" height="6"/><rect x="462" y="398" width="2" height="6"/><rect x="552" y="412" width="2" height="6"/><rect x="568" y="412" width="2" height="6"/><rect x="585" y="412" width="2" height="6"/><rect x="606" y="412" width="2" height="6"/><rect x="620" y="362" width="6" height="2"/><rect x="620" y="372" width="6" height="2"/><rect x="620" y="382" width="6" height="2"/><rect x="620" y="392" width="6" height="2"/><rect x="620" y="402" width="6" height="2"/>
<circle cx="530" cy="398" r="2.5"/><circle cx="534" cy="393" r="2.5"/></g>
<g><text class="n" x="176" y="336">COIA</text><text class="n" x="184" y="345">COIA</text><text class="s" x="184" y="349" fill="#b47bbf">Entre tabuoi o que vos seu prata</text>
<text class="n" x="195" y="357">DO ÁLVARO CUNQUEIRO</text><text class="s" x="195" y="361" fill="#b47bbf">Tiras en Ponto</text>
<text class="n" x="207" y="367">PARQUE DA BOUZA</text><text class="s" x="207" y="371" fill="#b47bbf">Entre falando do castelho</text>
<text class="n" x="219" y="380">NAVÍA</text><text class="s" x="219" y="384" fill="#b47bbf">Dentro das castores de Viladon</text>
<text class="n" x="251" y="393">A BOUCA</text><text class="s" x="251" y="397" fill="#b47bbf">Pedras ocultas</text>
<text class="n" x="280" y="393">A PLANIDA</text><text class="s" x="280" y="397" fill="#b47bbf">Razon do Ponoa</text>
<text class="n" x="312" y="410">CITROEN - VIGOLANTE</text><text class="s" x="308" y="414" fill="#b47bbf">O manhar que duas as la pulida Mongalo</text>
<text class="n" x="373" y="409">BALAÍDOS</text><text class="s" x="373" y="413" fill="#b47bbf">Nordi</text>
<text class="n" x="397" y="410">AREAL DE CASTELAO</text><text class="s" x="398" y="414" fill="#b47bbf">Adós de carpejo do soados</text>
<text class="n" x="446" y="409">DE SANTA IRENE</text><text class="s" x="446" y="413" fill="#b47bbf">Da Sapiras</text>
<text class="n" x="490" y="407">PRAZA DE AMÉRICA</text><text class="s" x="490" y="411" fill="#b47bbf">O mar quase case lena</text>
<text class="n" x="515" y="422">CASTRELOS</text><text class="s" x="505" y="426" fill="#b47bbf">Do lugar do castrolo</text>
<text class="n" x="543" y="405">QUIOSQUE DE LIÑA</text><text class="s" x="543" y="409" fill="#b47bbf">Ovo</text>
<text class="n" x="578" y="405">CONTEIRO DO PENEIRO</text><text class="s" x="578" y="409" fill="#b47bbf">Cargos o coisa</text>
<text class="n" x="537" y="423">AUDITORIO DE CASTRELOS</text><text class="s" x="537" y="427" fill="#b47bbf">A cabanas e corona</text>
<text class="n" x="596" y="423">CABANAS</text><text class="s" x="596" y="427" fill="#b47bbf">Cal da Feira</text>
<text class="n" x="628" y="360">ZAMANS</text><text class="n" x="628" y="370">SANSENTRA</text><text class="n" x="628" y="380">IMBREA DE A</text><text class="n" x="628" y="390">IGREXA DE</text><text class="n" x="628" y="399">MONTE LUPA</text><text class="n" x="628" y="408">MONTE SAÁS</text><text class="n" x="628" y="418">MONTE DOS MOS</text></g>

<path class="t" d="M206,443 H650" stroke="#3cbfcf" stroke-width="3.4"/>
<text x="167" y="421" font-size="17" font-weight="bold" fill="#3cbfcf">10</text>
<text x="189" y="417" font-size="4.5" fill="#555">Liña <tspan font-weight="bold">Rande - Illas Cíes</tspan></text>
<text x="174" y="434" font-size="11" fill="#111">✵</text>
<circle cx="206" cy="443" r="4" fill="#fff" stroke="#111" stroke-width="1.2"/><circle cx="206" cy="443" r="2.3" fill="#111"/>
<circle cx="612" cy="443" r="4" fill="#fff" stroke="#111" stroke-width="1.2"/><circle cx="612" cy="443" r="2.3" fill="#111"/>
<g fill="#111"><rect x="229" y="440" width="2" height="6"/><rect x="261" y="440" width="2" height="6"/><rect x="310" y="440" width="2" height="6"/><rect x="342" y="440" width="2" height="6"/><rect x="365" y="440" width="2" height="6"/><rect x="391" y="440" width="2" height="6"/><rect x="446" y="440" width="2" height="6"/><rect x="481" y="440" width="2" height="6"/><rect x="531" y="440" width="2" height="6"/><rect x="575" y="440" width="2" height="6"/><rect x="640" y="440" width="2" height="6"/></g>
<g><text class="n" x="198" y="437">ILLAS CÍES</text>
<text class="n" x="222" y="426">ILLAS CÍES</text><text class="n" x="222" y="430">ILLA SAN MARTIÑO</text><text class="s" x="222" y="434" fill="#3cbfcf">Os cilhas do mar</text>
<text class="n" x="262" y="426">ILLAS CÍES</text><text class="n" x="262" y="430">ILLA DO MEDIO - FARO</text><text class="s" x="262" y="434" fill="#3cbfcf">O chupo do deleores</text>
<text class="n" x="307" y="424">ILLAS CÍES</text><text class="s" x="307" y="428" fill="#3cbfcf">Registro Bonico</text><text class="s" x="307" y="432" fill="#3cbfcf">Principio concúbro</text><text class="s" x="307" y="436" fill="#3cbfcf">O penetra das turmas</text>
<text class="n" x="350" y="428">ILLAS CÍES</text><text class="n" x="350" y="432">AREAL DE RODAS</text><text class="s" x="345" y="436" fill="#3cbfcf">Ora que a dormes nas algaras</text>
<text class="n" x="397" y="433">ENSILE DE MAR DE VIGO</text><text class="s" x="397" y="437" fill="#3cbfcf">Procede ga bigo encontra os 4</text>
<text class="n" x="468" y="427">RÍA DE VIGO</text><text class="s" x="468" y="431" fill="#3cbfcf">Entre de radia ferra</text><text class="s" x="468" y="435" fill="#3cbfcf">Cabelo e castelos e os seguranos do mar</text>
<text class="n" x="575" y="433">CARRASCOSA ALOVAR</text><text class="s" x="575" y="437" fill="#3cbfcf">Sale o lo mar</text>
<text class="n" x="215" y="453">ILLAS CÍES</text><text class="n" x="215" y="457">PARO DA PORTA</text><text class="s" x="215" y="461" fill="#3cbfcf">Os tanques conta</text>
<text class="n" x="243" y="453">ILLAS CÍES</text><text class="n" x="243" y="457">AREAL DA ROSA SEÑORA</text><text class="s" x="243" y="461" fill="#3cbfcf">Negras brancos</text>
<text class="n" x="335" y="453">ILLAS CÍES</text><text class="n" x="320" y="457">AREAL DE FIGUEIRAS</text><text class="s" x="280" y="461" fill="#3cbfcf">Los a filarmis a ser cantos a casa da pessoa</text>
<text class="n" x="382" y="453">ILLAS CÍES</text><text class="n" x="382" y="457">ALTO DE PRINCIPE</text><text class="s" x="382" y="461" fill="#3cbfcf">Pe luques em de tabelas</text>
<text class="n" x="422" y="457">BARCO DOS AIRES - 1931</text><text class="s" x="422" y="461" fill="#3cbfcf">Non dous sao se destacanas</text>
<text class="n" x="470" y="453">RÍA DE VIGO</text><text class="s" x="470" y="457" fill="#3cbfcf">El cuello do un mar</text><text class="s" x="470" y="461" fill="#3cbfcf">Cantos do caete</text><text class="s" x="470" y="465" fill="#3cbfcf">Festalicadas</text>
<text class="n" x="510" y="451">RAÍA DE VIGO</text><text class="s" x="510" y="455" fill="#3cbfcf">Historia o cor do cantos</text><text class="s" x="510" y="459" fill="#3cbfcf">Alreras - Xermán Casas</text>
<text class="n" x="575" y="452">PONTE DE RANDE</text><text class="s" x="575" y="456" fill="#3cbfcf">A ponte de vos</text>
<text class="n" x="600" y="451">RANDE</text><text class="n" x="624" y="451">ILLA SAN SIMÓN</text><text class="s" x="624" y="455" fill="#3cbfcf">O cemiterio</text></g>

<g fill="#ccc" stroke="#111" stroke-width="0.9">
<circle cx="94" cy="238" r="2.6"/><circle cx="99" cy="238" r="2.6"/>
<circle cx="360" cy="273" r="2.6"/><circle cx="366" cy="273" r="2.6"/>
<circle cx="360" cy="300" r="2.6"/><circle cx="366" cy="300" r="2.6"/>
<circle cx="470" cy="300" r="2.6"/><circle cx="477" cy="300" r="2.6"/>
<circle cx="470" cy="337" r="2.6"/><circle cx="477" cy="337" r="2.6"/>
<circle cx="470" cy="238" r="2.6"/><circle cx="477" cy="238" r="2.6"/>
<circle cx="421" cy="251" r="2.6"/><circle cx="427" cy="251" r="2.6"/>
<circle cx="348" cy="187" r="2.6"/>
<circle cx="100" cy="296" r="2.6"/><circle cx="106" cy="296" r="2.6"/><circle cx="103" cy="302" r="2.2"/>
</g>
</svg>
</body></html>
